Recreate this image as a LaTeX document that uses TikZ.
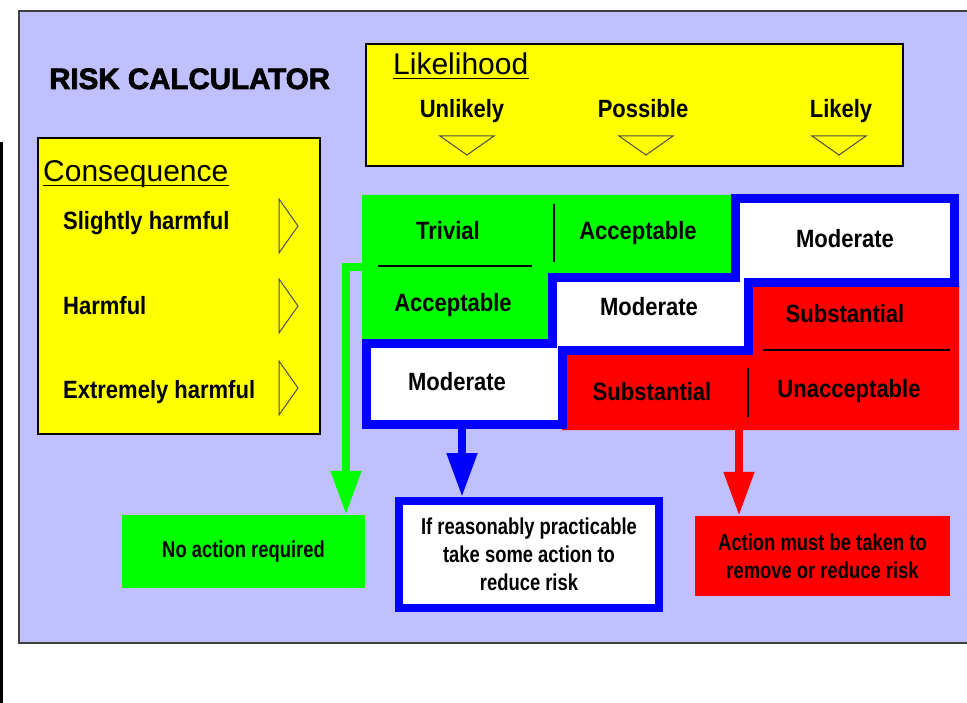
\documentclass[tikz,border=0pt]{standalone}
\usepackage{fontspec}
\setmainfont{Liberation Sans}
\newfontfamily\narrowfont[FakeStretch=0.88]{Liberation Sans}
\newfontfamily\slimfont[FakeStretch=0.8]{Liberation Sans}
\newfontfamily\heavyfont[BoldFeatures={FakeBold=2.5}]{Liberation Sans}
\usepackage{tikz}
\usetikzlibrary{calc}
\usetikzlibrary{arrows.meta}
\definecolor{cqcqff}{rgb}{0.753,0.753,1.}
\definecolor{ffffqq}{rgb}{1.,1.,0.}
\definecolor{qqffqq}{rgb}{0.,1.,0.}
\definecolor{qqqqff}{rgb}{0.,0.,1.}
\definecolor{ffqqqq}{rgb}{1.,0.,0.}
\tikzset{
  heading/.style={font=\heavyfont\bfseries\fontsize{29.5}{34}\selectfont,inner sep=0pt},
  axistitle/.style={font=\fontsize{30}{36}\selectfont,inner sep=0pt,anchor=base west},
  leveltext/.style={font=\narrowfont\bfseries\fontsize{25}{30}\selectfont,inner sep=0pt,anchor=base},
  actionbox/.style={font=\slimfont\bfseries\fontsize{23}{28}\selectfont,align=center,inner sep=0pt},
  tri/.style={draw=black!70,line width=1pt},
  gridline/.style={draw=black,line width=1.2pt}
}
\begin{document}
\begin{tikzpicture}[line cap=butt,line join=miter,>={Triangle[width=29pt,length=44pt]},x=1.0pt,y=-1.0pt]
\clip (0,0) rectangle (967,703);
\fill [black] (0,142) rectangle (3,703);
\draw [fill=cqcqff,draw=black!75,line width=1.5pt] (19,11) rectangle (990,643);
\node [heading,anchor=base west] (calc) at (49,89) {RISK CALCULATOR};
% likelihood box
\draw [fill=ffffqq,line width=1.2pt] (366,44) rectangle (903,166);
\node [axistitle] (lik) at (393,75) {Likelihood};
\draw [line width=1.6pt] ([yshift=-3.5pt]lik.base west) -- ([yshift=-3.5pt]lik.base east);
\node [leveltext] (unlik) at (462,118) {Unlikely};
\node [leveltext] (poss) at (643,118) {Possible};
\node [leveltext] (likely) at (841,118) {Likely};
\foreach \c in {467,646,839}
  \draw [tri] ({\c-27},136) -- ({\c+27},136) -- (\c,155) -- cycle;
% consequence box
\draw [fill=ffffqq,line width=1.2pt] (38,138) rectangle (320,434);
\node [axistitle] (cons) at (43,182) {Consequence};
\draw [line width=1.6pt] ([yshift=-3.5pt]cons.base west) -- ([yshift=-3.5pt]cons.base east);
\node [leveltext,anchor=base west] (slight) at (63,230) {Slightly harmful};
\node [leveltext,anchor=base west] (harm) at (63,315) {Harmful};
\node [leveltext,anchor=base west] (extreme) at (63,399) {Extremely harmful};
\foreach \m in {226,306,388}
  \draw [tri] (279,{\m-27}) -- (298,\m) -- (279,{\m+27}) -- cycle;
% risk matrix
\fill [qqffqq] (362,195) -- (736,195) -- (736,278) -- (553,278) -- (553,344) -- (362,344) -- cycle;
\fill [ffqqqq] (748,282) -- (959,282) -- (959,430) -- (562,430) -- (562,350) -- (748,350) -- cycle;
\draw [qqqqff,line width=9pt,fill=white] (366.5,343.5) -- (552.5,343.5) -- (552.5,277.5) -- (735.5,277.5) -- (735.5,199) -- (954.5,199) -- (954.5,282.5) -- (748.5,282.5) -- (748.5,350.5) -- (562.5,350.5) -- (562.5,424.5) -- (366.5,424.5) -- cycle;
\draw [gridline] (554,204) -- (554,262);
\draw [gridline] (378,266) -- (532,266);
\draw [gridline] (763,350) -- (950,350);
\draw [gridline] (748,368) -- (748,417);
\node [leveltext] (triv) at (448,240) {Trivial};
\node [leveltext] (acc1) at (638,240) {Acceptable};
\node [leveltext] (mod1) at (845,248) {Moderate};
\node [leveltext] (acc2) at (453,312) {Acceptable};
\node [leveltext] (mod2) at (649,316) {Moderate};
\node [leveltext] (sub2) at (845,323) {Substantial};
\node [leveltext] (mod3) at (457,391) {Moderate};
\node [leveltext] (sub3) at (652,400) {Substantial};
\node [leveltext] (unacc) at (849,398) {Unacceptable};
% actions
\node [actionbox,fill=qqffqq,minimum width=243pt,minimum height=73pt] (noaction) at (243.5,551.5) {No action required};
\node [actionbox,draw=qqqqff,line width=8pt,fill=white,minimum width=260pt,minimum height=107pt] (reduce) at (529,554.5) {If reasonably practicable\\take some action to\\reduce risk};
\node [actionbox,fill=ffqqqq,minimum width=255pt,minimum height=80pt] (mustact) at (822.5,556) {Action must be taken to\\remove or reduce risk};
\coordinate (gstart) at (362,267);
\coordinate (gcorner) at (346,267);
\coordinate (bstart) at (462,429);
\coordinate (rstart) at (739,430);
\draw [->,qqffqq,line width=8pt] (gstart) -- (gcorner) -- (gcorner |- noaction.north);
\draw [->,qqqqff,line width=8pt] (bstart) -- (bstart |- reduce.north);
\draw [->,ffqqqq,line width=8pt] (rstart) -- (rstart |- mustact.north);
\end{tikzpicture}
\end{document}
